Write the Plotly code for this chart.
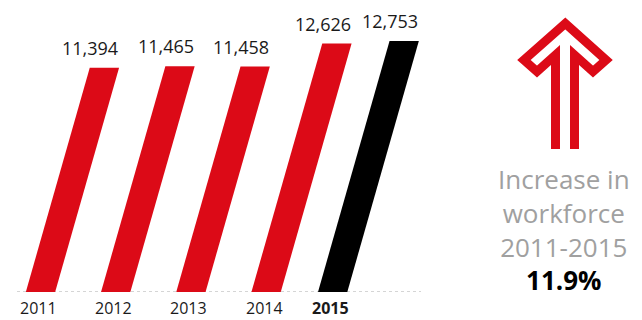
import plotly.graph_objects as go

# ---- data ----
years = ["2011", "2012", "2013", "2014", "2015"]
values = [11394, 11465, 11458, 12626, 12753]
value_labels = ["11,394", "11,465", "11,458", "12,626", "12,753"]
bar_colors = ["#dc0a17", "#dc0a17", "#dc0a17", "#dc0a17", "#000000"]
bold_flags = [False, False, False, False, True]
summary_lines = ["Increase in", "workforce", "2011-2015"]
summary_value = "11.9%"

# ---- layout constants ----
W, H = 642, 320
slots = [0, 1, 2, 3, 3.885]          # horizontal slot of each bar
px_per_slot = 75.2
first_center_px = 40.5
baseline_px = 292
ymax = 14837
bar_w_px = 29.3
slant = 0.285                          # horizontal px per vertical px

px_per_val = baseline_px / ymax
x0 = -first_center_px / px_per_slot
x1 = x0 + W / px_per_slot
bar_w = bar_w_px / px_per_slot
RED = "#dc0a17"


def pxx(x):
    return x / W


def pxy(y):
    return 1 - y / H


fig = go.Figure()
for i, (v, c) in enumerate(zip(values, bar_colors)):
    cx = slots[i]
    shift = v * px_per_val * slant / px_per_slot
    xs = [cx - bar_w / 2, cx + bar_w / 2, cx + bar_w / 2 + shift, cx - bar_w / 2 + shift, cx - bar_w / 2]
    ys = [0, 0, v, v, 0]
    fig.add_trace(go.Scatter(x=xs, y=ys, fill="toself", fillcolor=c, mode="lines",
                             line=dict(width=0, color=c), hoverinfo="skip", showlegend=False))
    fig.add_annotation(x=cx + bar_w / 2 + shift, y=v, text=value_labels[i], showarrow=False,
                       xanchor="right", yanchor="middle", yshift=20, xshift=1,
                       font=dict(family="Open Sans", size=18, color="#1a1a1a"))
    txt = f"<b>{years[i]}</b>" if bold_flags[i] else years[i]
    fig.add_annotation(x=cx, y=0, text=txt, showarrow=False, xanchor="center", yanchor="middle",
                       yshift=-16, xshift=-2, borderpad=0,
                       font=dict(family="Open Sans", size=16, color="#1a1a1a"))

# dotted baseline
fig.add_shape(type="line", xref="x", yref="y", x0=(17 - first_center_px) / px_per_slot, x1=(421 - first_center_px) / px_per_slot,
              y0=0, y1=0, line=dict(color="#aaaaaa", width=1, dash="dot"), layer="below")

# arrow (decoration), paper coordinates
cx_a = 565
lw = 9
left = [(555.5, 149), (555.5, 55), (537, 71.5), (524, 60)]
right = [(2 * cx_a - x, y) for (x, y) in left]
pts = left + [(565.3, 23.5)] + right[::-1]
path = "M " + " L ".join(f"{pxx(x):.5f},{pxy(y):.5f}" for x, y in pts)
fig.add_shape(type="path", xref="paper", yref="paper", path=path, line=dict(color=RED, width=lw))

# summary text
summary_text = "<br>".join(summary_lines) + f"<br><b><span style='color:#000000'>{summary_value}</span></b>"
fig.add_annotation(xref="paper", yref="paper", x=pxx(564), y=pxy(229), text=summary_text, showarrow=False,
                   xanchor="center", yanchor="middle", align="center",
                   font=dict(family="Open Sans", size=26, color="#a0a0a0"))

fig.update_layout(
    width=W, height=H, margin=dict(l=0, r=0, t=0, b=0),
    paper_bgcolor="white", plot_bgcolor="rgba(0,0,0,0)",
    xaxis=dict(range=[x0, x1], domain=[0, 1], visible=False, fixedrange=True),
    yaxis=dict(range=[0, ymax], domain=[(H - baseline_px) / H, 1], visible=False, fixedrange=True),
    showlegend=False,
)
fig.write_html("out.html", config={"displayModeBar": False},
               post_script="document.body.style.margin='0';document.body.style.overflow='hidden';")
